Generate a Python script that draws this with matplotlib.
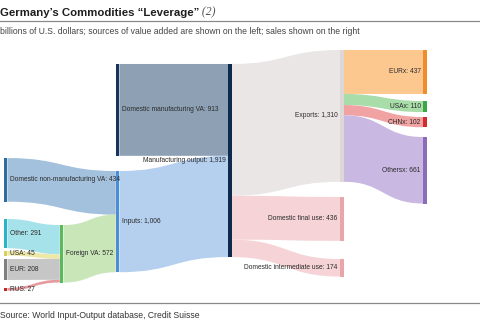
import matplotlib
matplotlib.use("Agg")
import matplotlib.pyplot as plt
from matplotlib.path import Path
from matplotlib.patches import PathPatch, Rectangle

# ---------------- data ----------------
node_names = ["Domestic manufacturing VA", "Domestic non-manufacturing VA", "Other", "USA", "EUR", "RUS",
              "Foreign VA", "Inputs", "Manufacturing output", "Exports", "Domestic final use",
              "Domestic intermediate use", "EURx", "USAx", "CHNx", "Othersx"]
node_value = [913, 434, 291, 45, 208, 27, 572, 1006, 1919, 1310, 436, 174, 437, 110, 102, 661]
link_source = ["Domestic manufacturing VA", "Domestic non-manufacturing VA", "Foreign VA", "Inputs",
               "Other", "USA", "EUR", "RUS",
               "Manufacturing output", "Manufacturing output", "Manufacturing output",
               "Exports", "Exports", "Exports", "Exports"]
link_target = ["Manufacturing output", "Inputs", "Inputs", "Manufacturing output",
               "Foreign VA", "Foreign VA", "Foreign VA", "Foreign VA",
               "Exports", "Domestic final use", "Domestic intermediate use",
               "EURx", "USAx", "CHNx", "Othersx"]
link_value = [913, 434, 572, 1006, 291, 45, 208, 27, 1310, 436, 174, 437, 110, 102, 661]

title = "Germany\u2019s Commodities \u201cLeverage\u201d"
title_note = "(2)"
subtitle = "billions of U.S. dollars; sources of value added are shown on the left; sales shown on the right"
source = "Source: World Input-Output database, Credit Suisse"

# ---------------- layout (positions / styles) ----------------
W, H = 480, 326
px_per_unit = 0.1006          # vertical scale: pixels per billion
y_origin_px = 50              # pixel row of value-offset 0
node_w = 3.6
node_x = {"Domestic non-manufacturing VA": 3.8, "Other": 3.8, "USA": 3.8, "EUR": 3.8, "RUS": 3.8,
          "Foreign VA": 59.8, "Domestic manufacturing VA": 115.8, "Inputs": 115.8,
          "Manufacturing output": 228.2, "Exports": 340, "Domestic final use": 340,
          "Domestic intermediate use": 340, "EURx": 423, "USAx": 423, "CHNx": 423, "Othersx": 423}
# node tops, in value units below the layout origin
node_top = {"Exports": 0, "EURx": 0, "Manufacturing output": 139, "Domestic manufacturing VA": 139,
            "Domestic non-manufacturing VA": 1074, "Inputs": 1203, "Other": 1680, "USA": 1998,
            "EUR": 2078, "RUS": 2365, "Foreign VA": 1740, "Domestic final use": 1461,
            "Domestic intermediate use": 2078, "USAx": 507, "CHNx": 666, "Othersx": 865}
label_right = {"Domestic manufacturing VA", "Domestic non-manufacturing VA", "Other", "USA", "EUR",
               "RUS", "Foreign VA", "Inputs"}
node_color = {"Domestic manufacturing VA": "#17355a", "Manufacturing output": "#0e2b4e",
              "Domestic non-manufacturing VA": "#2f6d9c", "Inputs": "#4a8fd6",
              "Other": "#2bb3c6", "USA": "#d6d05c", "EUR": "#7f7f7f", "RUS": "#c0282e",
              "Foreign VA": "#5cb85c", "Exports": "#ddd7d7", "Domestic final use": "#e9a5aa",
              "Domestic intermediate use": "#e9a5aa", "EURx": "#f08c2a", "USAx": "#3aa845",
              "CHNx": "#d32b2b", "Othersx": "#8c6bb8"}
link_color = ["#8ea1b4", "#a3c1dc", "#c8e6b8", "#b5cfef", "#a6e2ea", "#ede8a8", "#c6c6c6", "#e59a9e",
              "#ebe6e6", "#f5d3d6", "#f5d3d6", "#fdc790", "#a8dca8", "#f1a3a3", "#c9b8e2"]

# ---------------- figure ----------------
fig = plt.figure(figsize=(W / 100, H / 100), dpi=100)
ax = fig.add_axes([0, 0, 1, 1])
ax.set_xlim(0, W)
ax.set_ylim((H - y_origin_px) / px_per_unit, -y_origin_px / px_per_unit)
ax.axis("off")

font = "Liberation Sans"
node_size = dict(zip(node_names, node_value))

# links
src_off = {n: 0 for n in node_names}
tgt_off = {n: 0 for n in node_names}
for s, t, v, c in zip(link_source, link_target, link_value, link_color):
    x0 = node_x[s] + node_w
    x1 = node_x[t]
    ys0 = node_top[s] + src_off[s]
    yt0 = node_top[t] + tgt_off[t]
    ys1, yt1 = ys0 + v, yt0 + v
    src_off[s] += v
    tgt_off[t] += v
    xm = (x0 + x1) / 2
    verts = [(x0, ys0), (xm, ys0), (xm, yt0), (x1, yt0),
             (x1, yt1), (xm, yt1), (xm, ys1), (x0, ys1), (x0, ys0)]
    codes = [Path.MOVETO, Path.CURVE4, Path.CURVE4, Path.CURVE4,
             Path.LINETO, Path.CURVE4, Path.CURVE4, Path.CURVE4, Path.CLOSEPOLY]
    ax.add_patch(PathPatch(Path(verts, codes), facecolor=c, edgecolor="none", zorder=1))

# nodes + labels
for n in node_names:
    ax.add_patch(Rectangle((node_x[n], node_top[n]), node_w, node_size[n],
                           facecolor=node_color[n], edgecolor="none", zorder=2))
    yc = node_top[n] + node_size[n] / 2
    lab = f"{n}: {node_size[n]:,}"
    if n in label_right:
        ax.text(node_x[n] + node_w + 2.2, yc, lab, ha="left", va="center", fontsize=4.75,
                color="#2a2a2a", family=font, zorder=3)
    else:
        ax.text(node_x[n] - 2.4, yc, lab, ha="right", va="center", fontsize=4.75,
                color="#2a2a2a", family=font, zorder=3)

# title, subtitle, rules, source (figure coordinates)
t1 = fig.text(0.0, 1 - 12.5 / H, title, ha="left", va="center", fontsize=8.2,
              fontweight="bold", color="#1e1e1e", family=font)
ax.annotate(" " + title_note, xy=(1, 0.5), xycoords=t1, ha="left", va="center",
            fontsize=8.4, color="#555555", family="Liberation Serif", style="italic")
fig.add_artist(plt.Line2D([0, 1], [1 - 21.3 / H] * 2, color="#8a8a8a", lw=0.9))
fig.text(0.0, 1 - 31 / H, subtitle, ha="left", va="center", fontsize=6.2,
         color="#444444", family=font)
fig.add_artist(plt.Line2D([0, 1], [1 - 302.5 / H] * 2, color="#8a8a8a", lw=0.9))
fig.text(0.0, 1 - 315.5 / H, source, ha="left", va="center", fontsize=6.2,
         color="#333333", family=font)

fig.savefig("out.png", dpi=100, facecolor="white")
